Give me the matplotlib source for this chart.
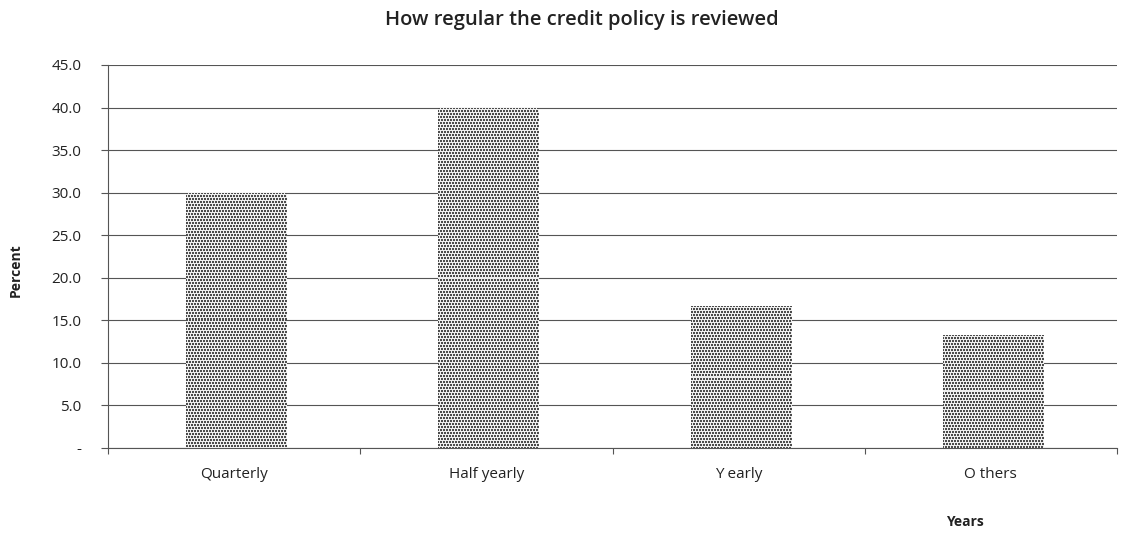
import numpy as np
import matplotlib
matplotlib.use("Agg")
import matplotlib.pyplot as plt

categories = ["Quarterly", "Half yearly", "Y early", "O thers"]
percent = [30.0, 40.0, 16.7, 13.3]
y_ticks = [0, 5, 10, 15, 20, 25, 30, 35, 40, 45]
y_tick_labels = ["-", "5.0", "10.0", "15.0", "20.0", "25.0", "30.0", "35.0", "40.0", "45.0"]

plt.rcParams["font.family"] = ["Open Sans", "DejaVu Sans"]

W, H, DPI = 1126, 533, 100
fig = plt.figure(figsize=(W / DPI, H / DPI), dpi=DPI)
ax = fig.add_axes([108 / W, 1 - 448 / H, (1117 - 108) / W, (448 - 65) / H])

x = np.arange(len(categories))
ax.set_xlim(-0.5, len(categories) - 0.5)
ax.set_ylim(0, 45)

bars = ax.bar(x + 0.01, percent, width=0.4, color="none", edgecolor="none", zorder=3)

# dotted screen texture inside each bar
for b in bars:
    x0, y0 = b.get_x(), b.get_y()
    x1, y1 = x0 + b.get_width(), y0 + b.get_height()
    (px0, py0), (px1, py1) = ax.transData.transform([(x0, y0), (x1, y1)])
    nw, nh = max(int(round(px1 - px0)), 1), max(int(round(py1 - py0)), 1)
    jj, ii = np.meshgrid(np.arange(nw), np.arange(nh))
    dark = ((ii % 3) < 2) & (((jj + (ii // 3) % 2) % 3) < 2)
    tex = np.where(dark, 0.30, 0.93)
    im = ax.imshow(tex, cmap="gray", vmin=0, vmax=1, extent=(x0, x1, y0, y1),
                   interpolation="none", aspect="auto", zorder=3)
    im.set_clip_path(b)

ax.set_xlim(-0.5, len(categories) - 0.5)
ax.set_ylim(0, 45)

ax.set_yticks(y_ticks)
ax.set_yticklabels(y_tick_labels, fontsize=11, color="#222222")
ax.yaxis.grid(True, color="#555555", linewidth=0.8, zorder=0)
ax.set_axisbelow(True)

ax.set_xticks(np.arange(len(categories) + 1) - 0.5)
ax.set_xticklabels([])
ax.set_xticks(x, minor=True)
ax.set_xticklabels(categories, minor=True, fontsize=11, color="#222222")
ax.tick_params(axis="x", which="minor", length=0, pad=14)
ax.tick_params(axis="x", which="major", length=4, color="#555555")
ax.tick_params(axis="y", length=5, color="#555555", pad=14)

for s in ["top", "right"]:
    ax.spines[s].set_visible(False)
ax.spines["left"].set_color("#555555")
ax.spines["bottom"].set_color("#555555")
ax.spines["left"].set_linewidth(0.8)
ax.spines["bottom"].set_linewidth(0.8)

fig.text(582 / W, 1 - 20 / H, "How regular the credit policy is reviewed",
         ha="center", va="center", fontsize=14.5, fontweight="semibold", color="#222222")
fig.text(16 / W, 1 - 270 / H, "Percent", rotation=90, ha="center", va="center",
         fontsize=10, fontweight="bold", color="#222222")
fig.text(965 / W, 1 - 522 / H, "Years", ha="center", va="center",
         fontsize=10, fontweight="bold", color="#222222")

fig.savefig("out.png", dpi=DPI)
